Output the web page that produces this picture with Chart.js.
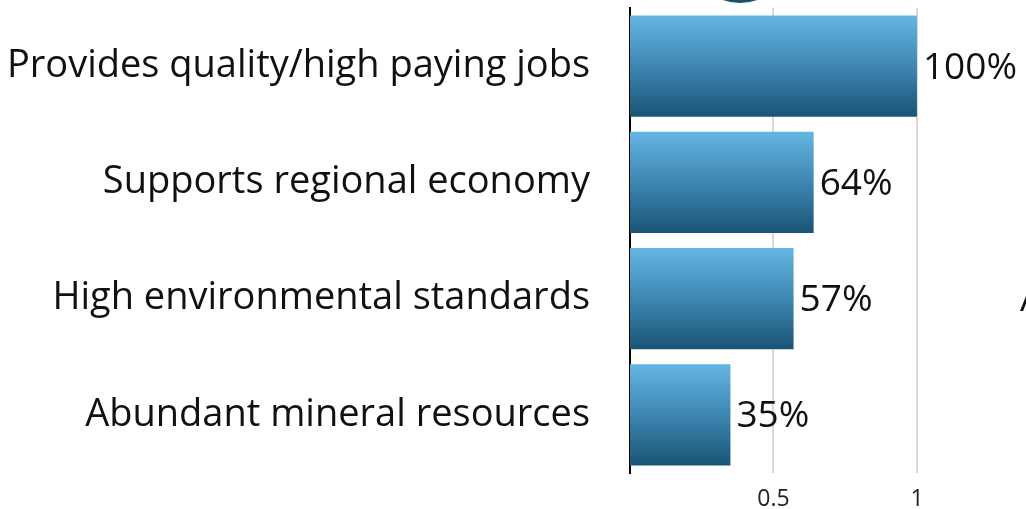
<!DOCTYPE html>
<html>
<head>
<meta charset="utf-8">
<script src="https://cdn.jsdelivr.net/npm/chart.js@4"></script>
<style>
  html, body { margin: 0; padding: 0; background: #fff; }
  #wrap { width: 1026px; height: 509px; position: relative; }
</style>
</head>
<body>
<div id="wrap"><canvas id="chart"></canvas></div>
<script>
const categories = [
    'Provides quality/high paying jobs',
    'Supports regional economy',
    'High environmental standards',
    'Abundant mineral resources'
];
const shares = [1.0, 0.64, 0.57, 0.35];
const shareLabels = ['100%', '64%', '57%', '35%'];
const xTicks = [0.5, 1];

const labelFont = "'Open Sans', Lato, sans-serif";
const barPct = 0.87;

// vertical gradient per bar, light on top, dark at the bottom
function barFill(context) {
    const chart = context.chart;
    const y = chart.scales.y;
    if (!chart.chartArea || !y) return '#3f88b3';
    const center = y.getPixelForValue(context.dataIndex);
    const half = (y.getPixelForValue(1) - y.getPixelForValue(0)) * barPct / 2;
    const g = chart.ctx.createLinearGradient(0, center - half, 0, center + half);
    g.addColorStop(0, '#65b5e2');
    g.addColorStop(0.5, '#3d87b2');
    g.addColorStop(1, '#1a5475');
    return g;
}

const valueLabels = {
    id: 'valueLabels',
    afterDatasetsDraw(chart) {
        const ctx = chart.ctx;
        const meta = chart.getDatasetMeta(0);
        ctx.save();
        ctx.font = '37px ' + labelFont;
        ctx.fillStyle = '#111';
        ctx.textAlign = 'left';
        ctx.textBaseline = 'middle';
        meta.data.forEach((bar, i) => {
            ctx.fillText(shareLabels[i], bar.x + 6, bar.y + 2);
        });
        ctx.restore();
    }
};

// bits of neighbouring artwork that poke into the frame
const cropped = {
    id: 'cropped',
    afterDraw(chart) {
        const ctx = chart.ctx;
        ctx.save();
        ctx.fillStyle = '#1b4f6d';
        ctx.beginPath();
        ctx.arc(740, -49, 52, 0, Math.PI * 2);
        ctx.fill();
        ctx.fillStyle = '#111';
        ctx.font = '37px ' + labelFont;
        ctx.textBaseline = 'middle';
        ctx.fillText('A', 1020, 300);
        ctx.restore();
    }
};

const ctx = document.getElementById('chart').getContext('2d');
new Chart(ctx, {
    type: 'bar',
    data: {
        labels: categories,
        datasets: [{
            data: shares,
            backgroundColor: barFill,
            borderWidth: 0,
            barPercentage: barPct,
            categoryPercentage: 1
        }]
    },
    options: {
        indexAxis: 'y',
        responsive: true,
        maintainAspectRatio: false,
        animation: false,
        layout: { padding: { top: 8, right: 0, bottom: 0, left: 0 } },
        plugins: {
            legend: { display: false },
            tooltip: { enabled: false }
        },
        scales: {
            x: {
                type: 'linear',
                min: 0,
                max: 1.38,
                afterBuildTicks: scale => { scale.ticks = xTicks.map(v => ({ value: v })); },
                afterFit: scale => {
                    scale.height = 36;
                    scale.paddingLeft = 0;
                    scale.paddingRight = 0;
                },
                border: { display: false },
                grid: { color: '#d9d9d9', lineWidth: 2, drawTicks: false },
                ticks: {
                    color: '#222',
                    padding: 13,
                    font: { family: labelFont, size: 23 },
                    autoSkip: false,
                    maxRotation: 0,
                    callback: v => String(v)
                }
            },
            y: {
                afterFit: scale => {
                    scale.width = 630;
                    scale.paddingTop = 0;
                    scale.paddingBottom = 0;
                },
                border: { display: true, color: '#000', width: 2 },
                grid: { display: false, drawTicks: false },
                ticks: {
                    color: '#111',
                    padding: 40,
                    font: { family: labelFont, size: 38 }
                }
            }
        }
    },
    plugins: [valueLabels, cropped]
});
</script>
</body>
</html>
